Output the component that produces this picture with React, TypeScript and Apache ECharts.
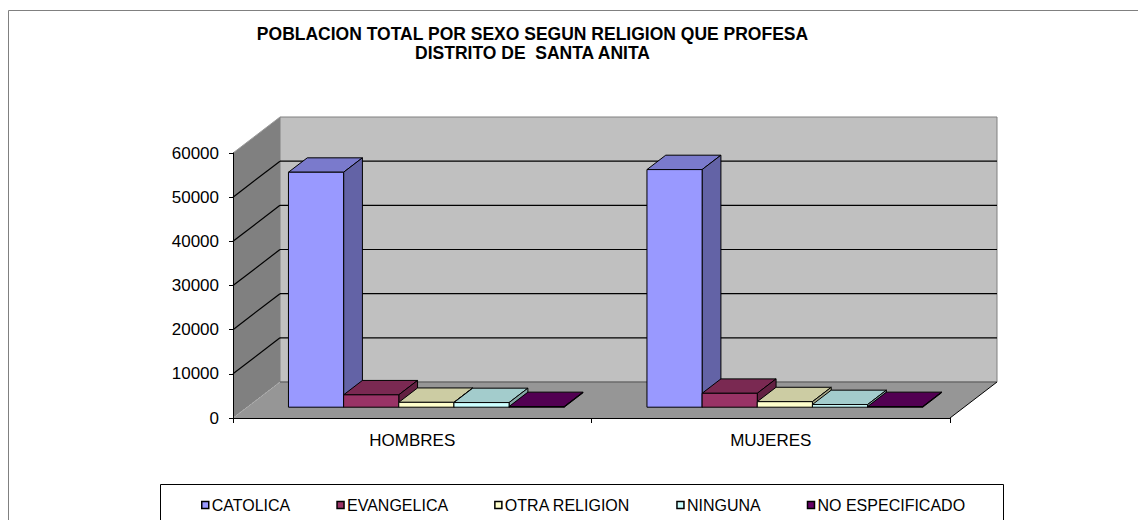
import React, { useEffect, useRef } from 'react';
import * as echarts from 'echarts';

const CATEGORIES = ['HOMBRES', 'MUJERES'];
const SERIES_NAMES = ['CATOLICA', 'EVANGELICA', 'OTRA RELIGION', 'NINGUNA', 'NO ESPECIFICADO'];
const CATOLICA = [53200, 53800];
const EVANGELICA = [2800, 3150];
const OTRA_RELIGION = [1100, 1250];
const NINGUNA = [1050, 600];
const NO_ESPECIFICADO = [150, 150];
const SERIES_VALUES = [CATOLICA, EVANGELICA, OTRA_RELIGION, NINGUNA, NO_ESPECIFICADO];
const Y_TICKS = [0, 10000, 20000, 30000, 40000, 50000, 60000];
const TITLE_LINES = ['POBLACION TOTAL POR SEXO SEGUN RELIGION QUE PROFESA', 'DISTRITO DE  SANTA ANITA'];

const COLORS = ['#9999FF', '#993366', '#FFFFCC', '#CCFFFF', '#660066'];
const FONT = "'Liberation Sans', Arial, sans-serif";

// 3D projection of depth
const DX = 47;
const DY = -36;
const D0 = 0.3;
const D1 = 0.7;
const GAP = 1.5;

function shade(hex: string, f: number): string {
  const n = parseInt(hex.slice(1), 16);
  const r = Math.round(((n >> 16) & 255) * f);
  const g = Math.round(((n >> 8) & 255) * f);
  const b = Math.round((n & 255) * f);
  return `rgb(${r},${g},${b})`;
}

export default function App() {
  const ref = useRef<HTMLDivElement>(null);
  useEffect(() => {
    if (!ref.current) return;
    const chart = echarts.init(ref.current, undefined, { renderer: 'svg' });
    const nSeries = SERIES_NAMES.length;
    const yMin = Y_TICKS[0];
    const yMax = Y_TICKS[Y_TICKS.length - 1];
    const yInterval = Y_TICKS[1] - Y_TICKS[0];

    const wallSeries: any = {
      type: 'custom',
      name: 'walls',
      silent: true,
      clip: false,
      data: [[0, 0]],
      encode: { x: 0, y: 1 },
      z: 1,
      renderItem: (params: any, api: any) => {
        const cs = params.coordSys;
        const x0 = cs.x;
        const x1 = cs.x + cs.width;
        const yT = cs.y;
        const yB = cs.y + cs.height;
        const children: any[] = [];
        children.push({
          type: 'polygon',
          shape: { points: [[x0, yT], [x0 + DX, yT + DY], [x0 + DX, yB + DY], [x0, yB]] },
          style: { fill: '#808080', stroke: null },
        });
        children.push({
          type: 'polygon',
          shape: { points: [[x0, yB], [x0 + DX, yB + DY], [x1 + DX, yB + DY], [x1, yB]] },
          style: { fill: '#969696', stroke: null },
        });
        children.push({
          type: 'rect',
          shape: { x: x0 + DX, y: yT + DY, width: x1 - x0, height: yB - yT },
          style: { fill: '#C0C0C0', stroke: '#808080', lineWidth: 1 },
        });
        Y_TICKS.forEach((v) => {
          if (v === yMin || v === yMax) return;
          const y = api.coord([0, v])[1];
          children.push({
            type: 'line',
            shape: { x1: x0 + DX, y1: y + DY, x2: x1 + DX, y2: y + DY },
            style: { stroke: '#000', lineWidth: 1.2 },
          });
          children.push({
            type: 'line',
            shape: { x1: x0, y1: y, x2: x0 + DX, y2: y + DY },
            style: { stroke: '#000', lineWidth: 1.2 },
          });
        });
        children.push({
          type: 'line',
          shape: { x1: x0, y1: yT, x2: x0 + DX, y2: yT + DY },
          style: { stroke: '#9a9a9a', lineWidth: 1 },
        });
        children.push({
          type: 'line',
          shape: { x1: x0, y1: yB, x2: x0 + DX, y2: yB + DY },
          style: { stroke: '#b0b0b0', lineWidth: 1, lineDash: [2, 2] },
        });
        children.push({
          type: 'line',
          shape: { x1: x0 + DX, y1: yB + DY, x2: x1 + DX, y2: yB + DY },
          style: { stroke: '#606060', lineWidth: 1 },
        });
        children.push({
          type: 'line',
          shape: { x1: x1, y1: yB, x2: x1 + DX, y2: yB + DY },
          style: { stroke: '#000', lineWidth: 1 },
        });
        return { type: 'group', children };
      },
    };

    const barSeries = SERIES_NAMES.map((name, s) => {
      const front = COLORS[s];
      const topC = shade(front, 0.8);
      const sideC = shade(front, 0.65);
      return {
        type: 'custom',
        name,
        clip: false,
        z: 2,
        itemStyle: { color: front, borderColor: '#000', borderWidth: 1 },
        encode: { x: 0, y: 1 },
        data: SERIES_VALUES[s].map((v, i) => [i, v]),
        renderItem: (params: any, api: any) => {
          const cat = api.value(0);
          const val = api.value(1);
          const base = api.coord([cat, 0]);
          const top = api.coord([cat, val]);
          const bandW = api.size([1, 0])[0];
          const barW = bandW / (nSeries + GAP);
          const xl = base[0] - (nSeries / 2) * barW + s * barW + D0 * DX;
          const xr = xl + barW;
          const yb = base[1] + D0 * DY;
          const yt = top[1] + D0 * DY;
          const bdx = (D1 - D0) * DX;
          const bdy = (D1 - D0) * DY;
          const st = { stroke: '#000', lineWidth: 1, lineJoin: 'round' };
          return {
            type: 'group',
            children: [
              {
                type: 'polygon',
                shape: { points: [[xl, yt], [xl + bdx, yt + bdy], [xr + bdx, yt + bdy], [xr, yt]] },
                style: { fill: topC, ...st },
              },
              {
                type: 'polygon',
                shape: { points: [[xr, yt], [xr + bdx, yt + bdy], [xr + bdx, yb + bdy], [xr, yb]] },
                style: { fill: sideC, ...st },
              },
              {
                type: 'rect',
                shape: { x: xl, y: yt, width: barW, height: yb - yt },
                style: { fill: front, ...st },
              },
            ],
          };
        },
      };
    });

    chart.setOption({
      animation: false,
      backgroundColor: '#ffffff',
      textStyle: { fontFamily: FONT },
      grid: { left: 233, right: 188, top: 153, bottom: 102, containLabel: false },
      xAxis: {
        type: 'category',
        data: CATEGORIES,
        z: 10,
        axisLine: { show: true, lineStyle: { color: '#000', width: 1 } },
        axisTick: { show: true, length: 5, lineStyle: { color: '#000' } },
        axisLabel: { color: '#000', fontSize: 17, fontFamily: FONT, margin: 14 },
        splitLine: { show: false },
      },
      yAxis: {
        type: 'value',
        min: yMin,
        max: yMax,
        interval: yInterval,
        z: 10,
        axisLine: { show: true, lineStyle: { color: '#000', width: 1 } },
        axisTick: { show: true, length: 4, lineStyle: { color: '#000' } },
        axisLabel: {
          color: '#000',
          fontSize: 17,
          fontFamily: FONT,
          margin: 14,
          formatter: (v: number) => String(v),
        },
        splitLine: { show: false },
      },
      legend: {
        data: SERIES_NAMES,
        left: 201,
        top: 497,
        icon: 'rect',
        itemWidth: 7,
        itemHeight: 7,
        itemGap: 46,
        padding: 0,
        itemStyle: { borderColor: '#000', borderWidth: 1.5 },
        textStyle: { color: '#000', fontSize: 16, fontFamily: FONT, padding: [0, 0, 0, -2] },
        selectedMode: false,
      },
      graphic: [
        {
          type: 'rect',
          shape: { x: 8.5, y: 10.5, width: 1140, height: 520 },
          style: { fill: 'none', stroke: '#808080', lineWidth: 1 },
          silent: true,
        },
        {
          type: 'rect',
          shape: { x: 160.5, y: 484.5, width: 843, height: 60 },
          style: { fill: 'none', stroke: '#000', lineWidth: 1 },
          silent: true,
        },
        {
          type: 'text',
          x: 532.5,
          y: 34,
          style: {
            text: TITLE_LINES[0],
            fill: '#000',
            font: `bold 17.5px ${FONT}`,
            textAlign: 'center',
            textVerticalAlign: 'middle',
          },
        },
        {
          type: 'text',
          x: 532.5,
          y: 53,
          style: {
            text: TITLE_LINES[1],
            fill: '#000',
            font: `bold 17.5px ${FONT}`,
            textAlign: 'center',
            textVerticalAlign: 'middle',
          },
        },
      ],
      tooltip: { show: false },
      series: [wallSeries, ...barSeries],
    });
    return () => chart.dispose();
  }, []);
  return (
    <div
      ref={ref}
      style={{ position: 'absolute', left: 0, top: 0, width: 1138, height: 520, background: '#fff' }}
    />
  );
}
